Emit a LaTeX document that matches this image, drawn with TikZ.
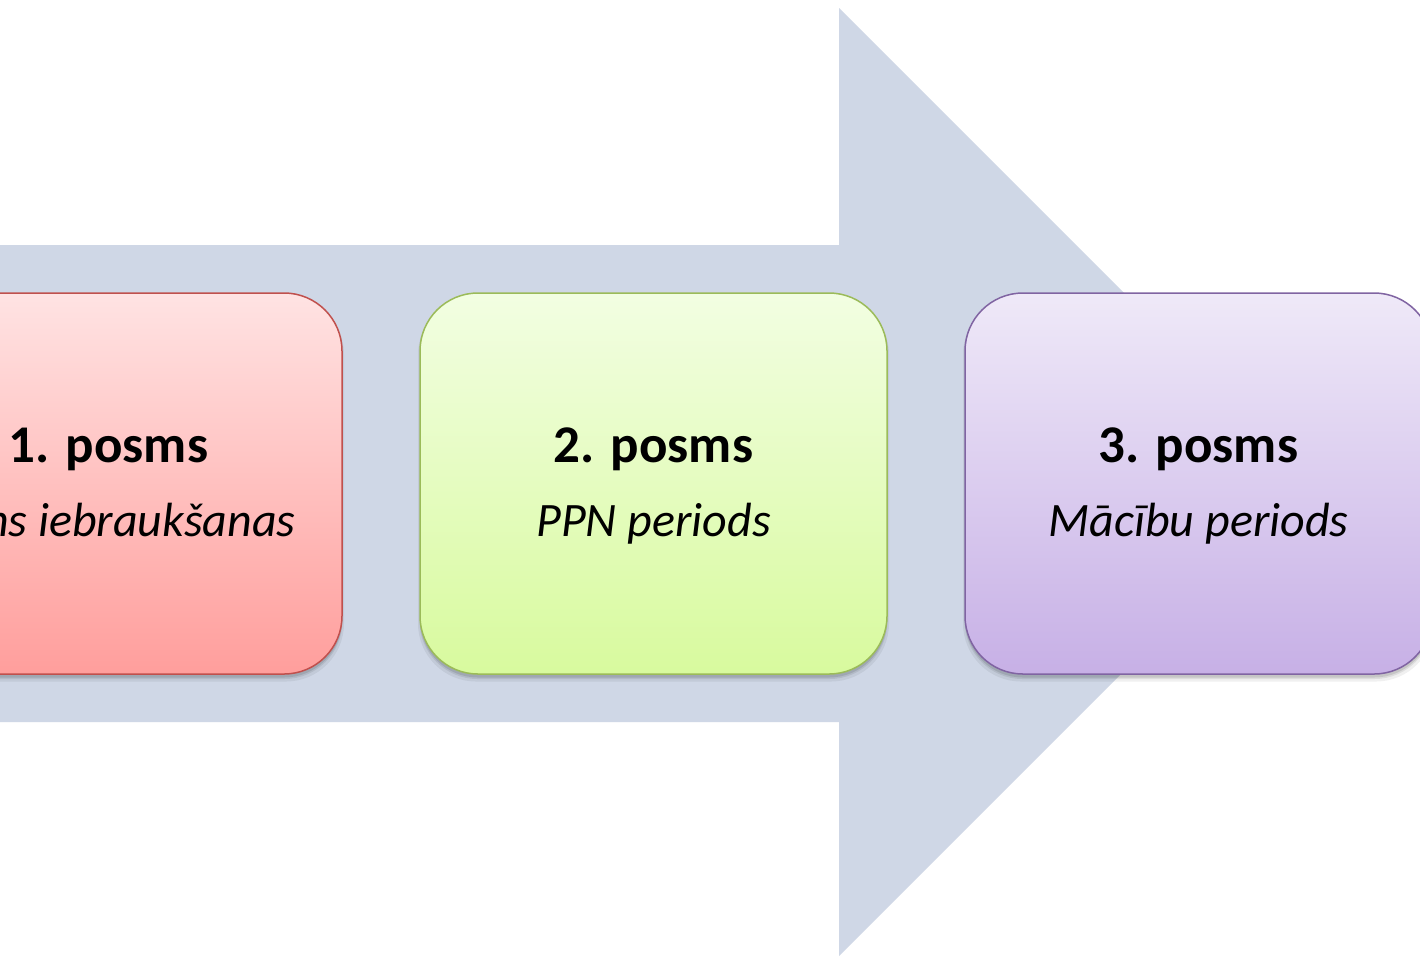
\documentclass[tikz,border=0pt]{standalone}
\usepackage{fontspec}
\setmainfont{Carlito}
\definecolor{arrowfill}{RGB}{207,215,230}
\definecolor{redtop}{RGB}{255,227,227}
\definecolor{redbot}{RGB}{255,158,156}
\definecolor{redline}{RGB}{192,80,77}
\definecolor{greentop}{RGB}{242,254,226}
\definecolor{greenbot}{RGB}{216,250,158}
\definecolor{greenline}{RGB}{155,187,89}
\definecolor{purptop}{RGB}{239,233,248}
\definecolor{purpbot}{RGB}{199,176,230}
\definecolor{purpline}{RGB}{128,100,162}
\begin{document}
\begin{tikzpicture}[x=1pt,y=-1pt,
  stagebox/.style={rectangle, rounded corners=58pt, minimum width=467pt, minimum height=381pt, line width=1.5pt, inner sep=0pt},
  shadowbox/.style={rectangle, rounded corners=58pt, minimum width=467pt, minimum height=381pt, fill=black, inner sep=0pt, draw=none},
  titletext/.style={anchor=base, font=\bfseries\fontsize{53}{60}\selectfont},
  subtext/.style={anchor=base, font=\itshape\fontsize{48}{55}\selectfont}]
\clip (0,0) rectangle (1420,956);
\fill[white] (0,0) rectangle (1420,956);
% big arrow
\fill[arrowfill] (0,245) -- (839,245) -- (839,8) -- (1313,482) -- (839,956) -- (839,722) -- (0,722) -- cycle;
% shadows
\foreach \cx in {108.5,653.5,1198.5}{
  \node[shadowbox, opacity=0.06, minimum width=471pt, minimum height=385pt] at (\cx,489) {};
  \node[shadowbox, opacity=0.08, minimum width=468pt, minimum height=382pt] at (\cx,488) {};
  \node[shadowbox, opacity=0.10] at (\cx,487) {};
}
% boxes
\node[stagebox, draw=redline, top color=redtop, bottom color=redbot] (b1) at (108.5,483.5) {};
\node[stagebox, draw=greenline, top color=greentop, bottom color=greenbot] (b2) at (653.5,483.5) {};
\node[stagebox, draw=purpline, top color=purptop, bottom color=purpbot] (b3) at (1198.5,483.5) {};
% texts
\node[titletext] (t1) at (108.5,462) {1. posms};
\node[subtext, anchor=base east] (s1) at (299,536) {ns iebraukšanas};
\node[titletext] (t2) at (653.5,462) {2. posms};
\node[subtext] (s2) at (653.5,536) {PPN periods};
\node[titletext] (t3) at (1198.5,462) {3. posms};
\node[subtext] (s3) at (1198.5,536) {Mācību periods};
\end{tikzpicture}
\end{document}
